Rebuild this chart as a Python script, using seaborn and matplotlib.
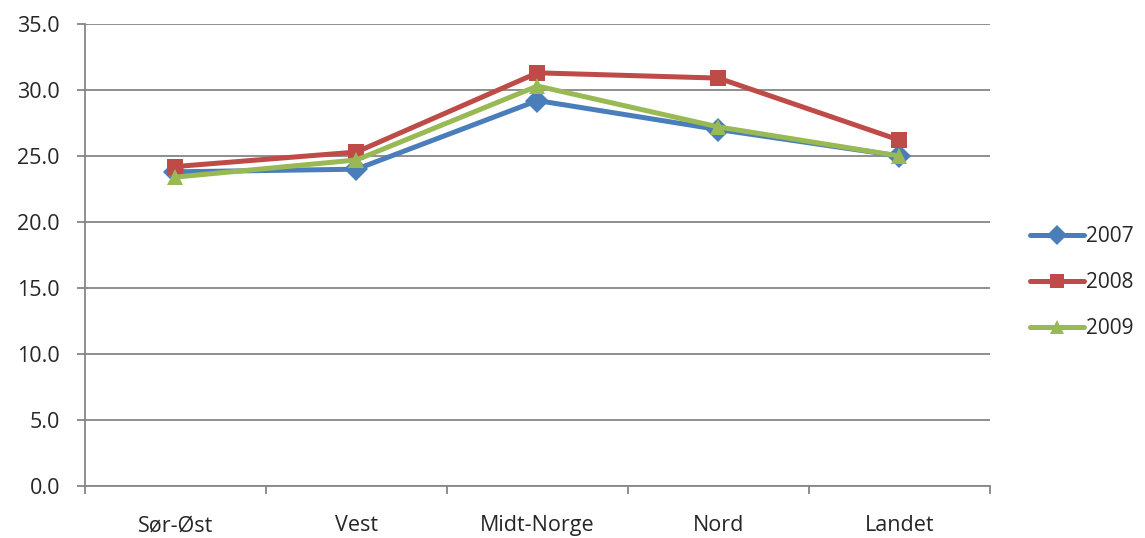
import numpy as np
import matplotlib.pyplot as plt
import seaborn as sns
import pandas as pd
from matplotlib.ticker import FixedLocator

regioner = ['Sør-Øst', 'Vest', 'Midt-Norge', 'Nord', 'Landet']
aar = ['2007', '2008', '2009']
v2007 = [23.8, 24.0, 29.2, 27.0, 25.0]
v2008 = [24.2, 25.3, 31.3, 30.9, 26.2]
v2009 = [23.4, 24.7, 30.3, 27.2, 25.0]

df = pd.DataFrame({'Region': regioner * 3,
                   'Verdi': v2007 + v2008 + v2009,
                   'Aar': [a for a in aar for _ in regioner]})

sns.set_style('white')
plt.rcParams['font.family'] = ['Open Sans', 'DejaVu Sans']

farger = {'2007': '#4A7EBB', '2008': '#BE4B48', '2009': '#98B954'}
markorer = {'2007': 'D', '2008': 's', '2009': '^'}

fig = plt.figure(figsize=(11.45, 5.38), dpi=100)
ax = fig.add_axes([0.0742, 0.0967, 0.7904, 0.8587])

sns.lineplot(data=df, x='Region', y='Verdi', hue='Aar', style='Aar',
             palette=farger, markers=markorer, dashes=False, linewidth=3.6,
             markersize=12, markeredgewidth=0, sort=False, ax=ax)

ax.set_xlim(-0.5, 4.5)
ax.set_ylim(0, 35)
ax.set_yticks(np.arange(0, 36, 5))
ax.set_yticklabels([f'{v:.1f}' for v in np.arange(0, 36, 5)], fontsize=15.5)
ax.set_xticks(range(len(regioner)))
ax.set_xticklabels(regioner, fontsize=15.5)
ax.xaxis.set_minor_locator(FixedLocator(np.arange(-0.5, 4.6, 1)))
ax.tick_params(axis='x', which='major', length=0, pad=21)
ax.tick_params(axis='x', which='minor', length=6, color='#868686', width=1.3,
               direction='out', bottom=True)
ax.tick_params(axis='y', length=6, color='#868686', width=1.3, direction='out',
               left=True, pad=12)
ax.set_xlabel('')
ax.set_ylabel('')

ax.grid(axis='y', color='#868686', linewidth=1.3)
ax.set_axisbelow(True)
for s in ['top', 'right']:
    ax.spines[s].set_visible(False)
for s in ['left', 'bottom']:
    ax.spines[s].set_color('#868686')
    ax.spines[s].set_linewidth(1.3)

ax.legend(loc='center left', bbox_to_anchor=(1.044, 0.44), frameon=False,
          fontsize=15, handlelength=2.6, handletextpad=0.1, labelspacing=1.2,
          borderaxespad=0, borderpad=0, markerscale=0.85)

plt.savefig('out.png', dpi=100)
plt.close()
